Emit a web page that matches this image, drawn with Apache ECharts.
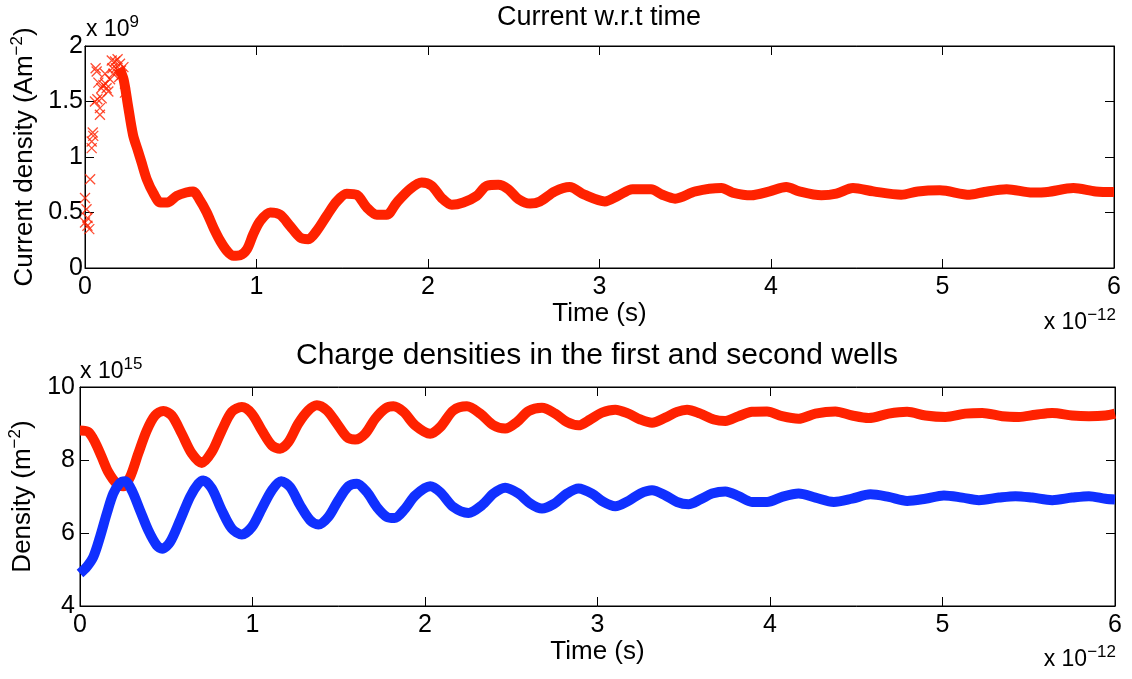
<!DOCTYPE html>
<html>
<head>
<meta charset="utf-8">
<script src="https://cdn.jsdelivr.net/npm/echarts@6.0.0/dist/echarts.min.js"></script>
<style>
html,body{margin:0;padding:0;background:#fff;}
#chart{width:1132px;height:679px;}
</style>
</head>
<body>
<div id="chart"></div>
<script>
// ---------- DATA (time in units of 1e-12 s) ----------
// Top panel: current density (units of 1e9 A m^-2)
const currentEarlyT = [0.000, 0.009, 0.000, 0.025, 0.014, 0.015, 0.030, 0.039, 0.048, 0.039, 0.045, 0.068, 0.078, 0.058, 0.087, 0.087, 0.097, 0.107, 0.126, 0.136, 0.117, 0.146, 0.156, 0.175, 0.165, 0.194, 0.204, 0.214, 0.224, 0.233, 0.062, 0.072, 0.095, 0.120, 0.160, 0.180, 0.190, 0.200, 0.210];
const currentEarlyJ = [0.63,  0.53,  0.41,  0.35,  0.38,  0.45,  0.80,  1.14,  1.19,  1.08,  1.22,  1.77,  1.67,  1.50,  1.44,  1.38,  1.53,  1.65,  1.62,  1.59,  1.75,  1.70,  1.87,  1.86,  1.75,  1.78,  1.84,  1.74,  1.81,  1.58,  1.80,  1.52,  1.62,  1.66,  1.80,  1.80,  1.88,  1.72,  1.78];
const currentT = [0.20, 0.225, 0.25, 0.28, 0.31, 0.33, 0.36, 0.40, 0.44, 0.48, 0.535, 0.59, 0.63, 0.67, 0.71, 0.75, 0.79, 0.83, 0.865, 0.905, 0.945, 0.98, 1.02, 1.08, 1.137, 1.195, 1.254, 1.302, 1.351, 1.409, 1.468, 1.526, 1.584, 1.643, 1.701, 1.759, 1.818, 1.895, 1.963, 2.022, 2.080, 2.138, 2.206, 2.284, 2.342, 2.410, 2.468, 2.527, 2.595, 2.653, 2.739, 2.826, 2.912, 3.031, 3.107, 3.193, 3.301, 3.366, 3.441, 3.560, 3.711, 3.776, 3.884, 3.992, 4.089, 4.165, 4.294, 4.381, 4.478, 4.597, 4.759, 4.856, 4.985, 5.158, 5.244, 5.374, 5.525, 5.612, 5.763, 5.893, 6.0];
const currentJ = [1.80, 1.70, 1.47, 1.20, 1.05, 0.95, 0.80, 0.67, 0.59, 0.59, 0.65, 0.68, 0.69, 0.61, 0.50, 0.36, 0.24, 0.15, 0.11, 0.115, 0.17, 0.30, 0.42, 0.50, 0.48, 0.38, 0.275, 0.26, 0.335, 0.47, 0.60, 0.67, 0.66, 0.545, 0.48, 0.48, 0.59, 0.71, 0.77, 0.74, 0.63, 0.57, 0.59, 0.65, 0.74, 0.75, 0.71, 0.62, 0.58, 0.60, 0.69, 0.73, 0.66, 0.60, 0.65, 0.71, 0.71, 0.66, 0.625, 0.69, 0.72, 0.68, 0.655, 0.69, 0.73, 0.69, 0.655, 0.67, 0.72, 0.69, 0.66, 0.69, 0.70, 0.66, 0.685, 0.71, 0.68, 0.685, 0.72, 0.69, 0.685];

// Bottom panel: charge densities (units of 1e15 m^-2)
const well1T = [0, 0.048, 0.087, 0.126, 0.164, 0.213, 0.251, 0.29, 0.338, 0.387, 0.435, 0.483, 0.532, 0.59, 0.648, 0.706, 0.764, 0.822, 0.88, 0.938, 0.996, 1.054, 1.112, 1.16, 1.208, 1.266, 1.324, 1.373, 1.431, 1.489, 1.547, 1.595, 1.653, 1.711, 1.769, 1.817, 1.875, 1.943, 2.03, 2.088, 2.165, 2.243, 2.32, 2.397, 2.465, 2.533, 2.60, 2.678, 2.755, 2.823, 2.89, 2.958, 3.026, 3.103, 3.18, 3.248, 3.316, 3.393, 3.461, 3.519, 3.596, 3.674, 3.741, 3.818, 3.896, 3.983, 4.07, 4.166, 4.263, 4.379, 4.476, 4.572, 4.688, 4.795, 4.901, 5.017, 5.133, 5.23, 5.346, 5.443, 5.539, 5.636, 5.752, 5.849, 5.945, 6.0];
const well1N = [8.81, 8.77, 8.49, 8.08, 7.67, 7.35, 7.28, 7.53, 8.18, 8.81, 9.22, 9.34, 9.22, 8.72, 8.18, 7.92, 8.22, 8.81, 9.32, 9.45, 9.27, 8.81, 8.40, 8.31, 8.49, 9.00, 9.36, 9.50, 9.36, 9.00, 8.63, 8.56, 8.72, 9.13, 9.41, 9.47, 9.32, 8.95, 8.72, 8.90, 9.36, 9.47, 9.27, 8.95, 8.86, 9.04, 9.34, 9.43, 9.27, 9.04, 8.95, 9.11, 9.30, 9.38, 9.27, 9.11, 9.02, 9.16, 9.32, 9.38, 9.27, 9.11, 9.07, 9.20, 9.32, 9.33, 9.20, 9.13, 9.27, 9.33, 9.22, 9.15, 9.27, 9.32, 9.22, 9.18, 9.27, 9.29, 9.20, 9.18, 9.24, 9.29, 9.22, 9.20, 9.22, 9.27];
const well2T = [0, 0.039, 0.077, 0.116, 0.155, 0.193, 0.232, 0.261, 0.30, 0.348, 0.396, 0.445, 0.477, 0.522, 0.58, 0.638, 0.686, 0.715, 0.764, 0.822, 0.88, 0.938, 0.996, 1.054, 1.112, 1.166, 1.218, 1.276, 1.334, 1.382, 1.44, 1.498, 1.556, 1.605, 1.663, 1.721, 1.779, 1.823, 1.885, 1.943, 2.03, 2.088, 2.165, 2.252, 2.33, 2.397, 2.465, 2.542, 2.61, 2.678, 2.745, 2.823, 2.89, 2.968, 3.035, 3.103, 3.18, 3.248, 3.316, 3.393, 3.461, 3.528, 3.596, 3.664, 3.741, 3.818, 3.896, 3.983, 4.07, 4.166, 4.263, 4.37, 4.476, 4.582, 4.688, 4.795, 4.901, 5.008, 5.114, 5.211, 5.327, 5.423, 5.52, 5.636, 5.752, 5.849, 5.945, 6.0];
const well2N = [4.89, 5.07, 5.34, 5.89, 6.53, 7.08, 7.37, 7.42, 7.17, 6.62, 6.07, 5.66, 5.57, 5.75, 6.35, 6.99, 7.35, 7.44, 7.22, 6.62, 6.12, 5.96, 6.16, 6.67, 7.17, 7.42, 7.26, 6.76, 6.35, 6.23, 6.44, 6.90, 7.28, 7.35, 7.12, 6.71, 6.44, 6.41, 6.67, 7.03, 7.28, 7.12, 6.71, 6.55, 6.76, 7.08, 7.24, 7.08, 6.81, 6.67, 6.79, 7.08, 7.22, 7.08, 6.85, 6.73, 6.88, 7.08, 7.17, 7.03, 6.85, 6.79, 6.92, 7.08, 7.14, 7.01, 6.85, 6.85, 6.99, 7.08, 6.97, 6.85, 6.94, 7.06, 6.99, 6.88, 6.94, 7.03, 6.97, 6.90, 6.97, 7.01, 6.97, 6.90, 6.97, 7.01, 6.94, 6.92];

// Tick labels
const timeTicks = ['0', '1', '2', '3', '4', '5', '6'];
const currentTicks = ['0', '0.5', '1', '1.5', '2'];
const densityTicks = ['4', '6', '8', '10'];

// ---------- CHART ----------
const FONT = 'Liberation Sans, Arial, Helvetica, sans-serif';
const RED = '#ff2200';
const BLUE = '#1030ff';
const pairs = (xs, ys) => xs.map((x, i) => [x, ys[i]]);
const crossX = 'path://M0,0L10,10M10,0L0,10';

const chart = echarts.init(document.getElementById('chart'), null, {renderer: 'canvas'});

function mainX(grid, name) {
  return {
    gridIndex: grid, type: 'value', min: 0, max: 6, interval: 1, position: 'bottom',
    axisLine: {show: true, onZero: false, lineStyle: {color: '#000', width: 1}},
    axisTick: {show: true, inside: true, length: 9, lineStyle: {color: '#000'}},
    axisLabel: {show: true, color: '#000', fontSize: 25, fontFamily: FONT, margin: 7,
      formatter: v => timeTicks[Math.round(v)]},
    splitLine: {show: false},
    name: name, nameLocation: 'middle', nameGap: 30,
    nameTextStyle: {color: '#000', fontSize: 26, fontFamily: FONT}
  };
}
function topX(grid) {
  return {
    gridIndex: grid, type: 'value', min: 0, max: 6, interval: 1, position: 'top',
    axisLine: {show: true, onZero: false, lineStyle: {color: '#000', width: 1}},
    axisTick: {show: true, inside: true, length: 9, lineStyle: {color: '#000'}},
    axisLabel: {show: false}, splitLine: {show: false}
  };
}
function leftY(grid, min, max, interval, labels, name, gap, margin) {
  return {
    gridIndex: grid, type: 'value', min: min, max: max, interval: interval, position: 'left',
    axisLine: {show: true, onZero: false, lineStyle: {color: '#000', width: 1}},
    axisTick: {show: true, inside: true, length: 9, lineStyle: {color: '#000'}},
    axisLabel: {show: true, color: '#000', fontSize: 25, fontFamily: FONT, margin: margin,
      formatter: v => labels[Math.round((v - min) / interval)]},
    splitLine: {show: false},
    name: name, nameLocation: 'middle', nameGap: gap, nameRotate: 90,
    nameTextStyle: {color: '#000', fontFamily: FONT,
      rich: {
        a: {fontSize: 26, fontFamily: FONT, color: '#000', lineHeight: 32},
        s: {fontSize: 17, fontFamily: FONT, color: '#000', verticalAlign: 'top', lineHeight: 17}
      }}
  };
}
function rightY(grid, min, max, interval) {
  return {
    gridIndex: grid, type: 'value', min: min, max: max, interval: interval, position: 'right',
    axisLine: {show: true, onZero: false, lineStyle: {color: '#000', width: 1}},
    axisTick: {show: true, inside: true, length: 9, lineStyle: {color: '#000'}},
    axisLabel: {show: false}, splitLine: {show: false}
  };
}
function expText(x, y, base, sup, align) {
  return {
    type: 'text', x: x, y: y, z: 10,
    style: {
      text: '{a|' + base + '}{s|' + sup + '}',
      align: align, verticalAlign: 'middle',
      rich: {
        a: {fontSize: 23, fontFamily: FONT, fill: '#000', color: '#000', lineHeight: 32},
        s: {fontSize: 17, fontFamily: FONT, fill: '#000', color: '#000', verticalAlign: 'top', lineHeight: 17}
      }
    }
  };
}

const option = {
  backgroundColor: '#fff',
  animation: false,
  grid: [
    {left: 85, top: 46, width: 1029, height: 222, show: true, borderColor: '#000', borderWidth: 1, containLabel: false, outerBoundsMode: 'none'},
    {left: 80, top: 387, width: 1035, height: 219, show: true, borderColor: '#000', borderWidth: 1, containLabel: false, outerBoundsMode: 'none'}
  ],
  xAxis: [mainX(0, 'Time (s)'), topX(0), mainX(1, 'Time (s)'), topX(1)],
  yAxis: [
    leftY(0, 0, 2, 0.5, currentTicks, '{a|Current density (Am}{s|−2}{a|)}', 42, 2),
    rightY(0, 0, 2, 0.5),
    leftY(1, 4, 10, 2, densityTicks, '{a|Density (m}{s|−2}{a|)}', 37, 5),
    rightY(1, 4, 10, 2)
  ],
  graphic: [
    {type: 'text', x: 599, y: 18, style: {text: 'Current w.r.t time', font: '27px ' + FONT, fill: '#000', align: 'center', verticalAlign: 'middle'}},
    {type: 'text', x: 597, y: 356, style: {text: 'Charge densities in the first and second wells', font: '30px ' + FONT, fill: '#000', align: 'center', verticalAlign: 'middle'}},
    expText(86, 30, 'x 10', '9', 'left'),
    expText(80, 372, 'x 10', '15', 'left'),
    expText(1116, 323, 'x 10', '−12', 'right'),
    expText(1116, 660, 'x 10', '−12', 'right')
  ],
  series: [
    {
      type: 'scatter', xAxisIndex: 0, yAxisIndex: 0,
      symbol: crossX, symbolSize: 10,
      itemStyle: {color: 'rgba(0,0,0,0)', borderColor: RED, borderWidth: 1.3},
      data: pairs(currentEarlyT, currentEarlyJ)
    },
    {
      type: 'line', xAxisIndex: 0, yAxisIndex: 0, showSymbol: false, smooth: 0.3,
      lineStyle: {color: RED, width: 10}, itemStyle: {color: RED},
      data: pairs(currentT, currentJ)
    },
    {
      type: 'line', xAxisIndex: 2, yAxisIndex: 2, showSymbol: false, smooth: 0.3,
      lineStyle: {color: RED, width: 10}, itemStyle: {color: RED},
      data: pairs(well1T, well1N)
    },
    {
      type: 'line', xAxisIndex: 2, yAxisIndex: 2, showSymbol: false, smooth: 0.3,
      lineStyle: {color: BLUE, width: 10}, itemStyle: {color: BLUE},
      data: pairs(well2T, well2N)
    }
  ]
};
chart.setOption(option);
</script>
</body>
</html>
